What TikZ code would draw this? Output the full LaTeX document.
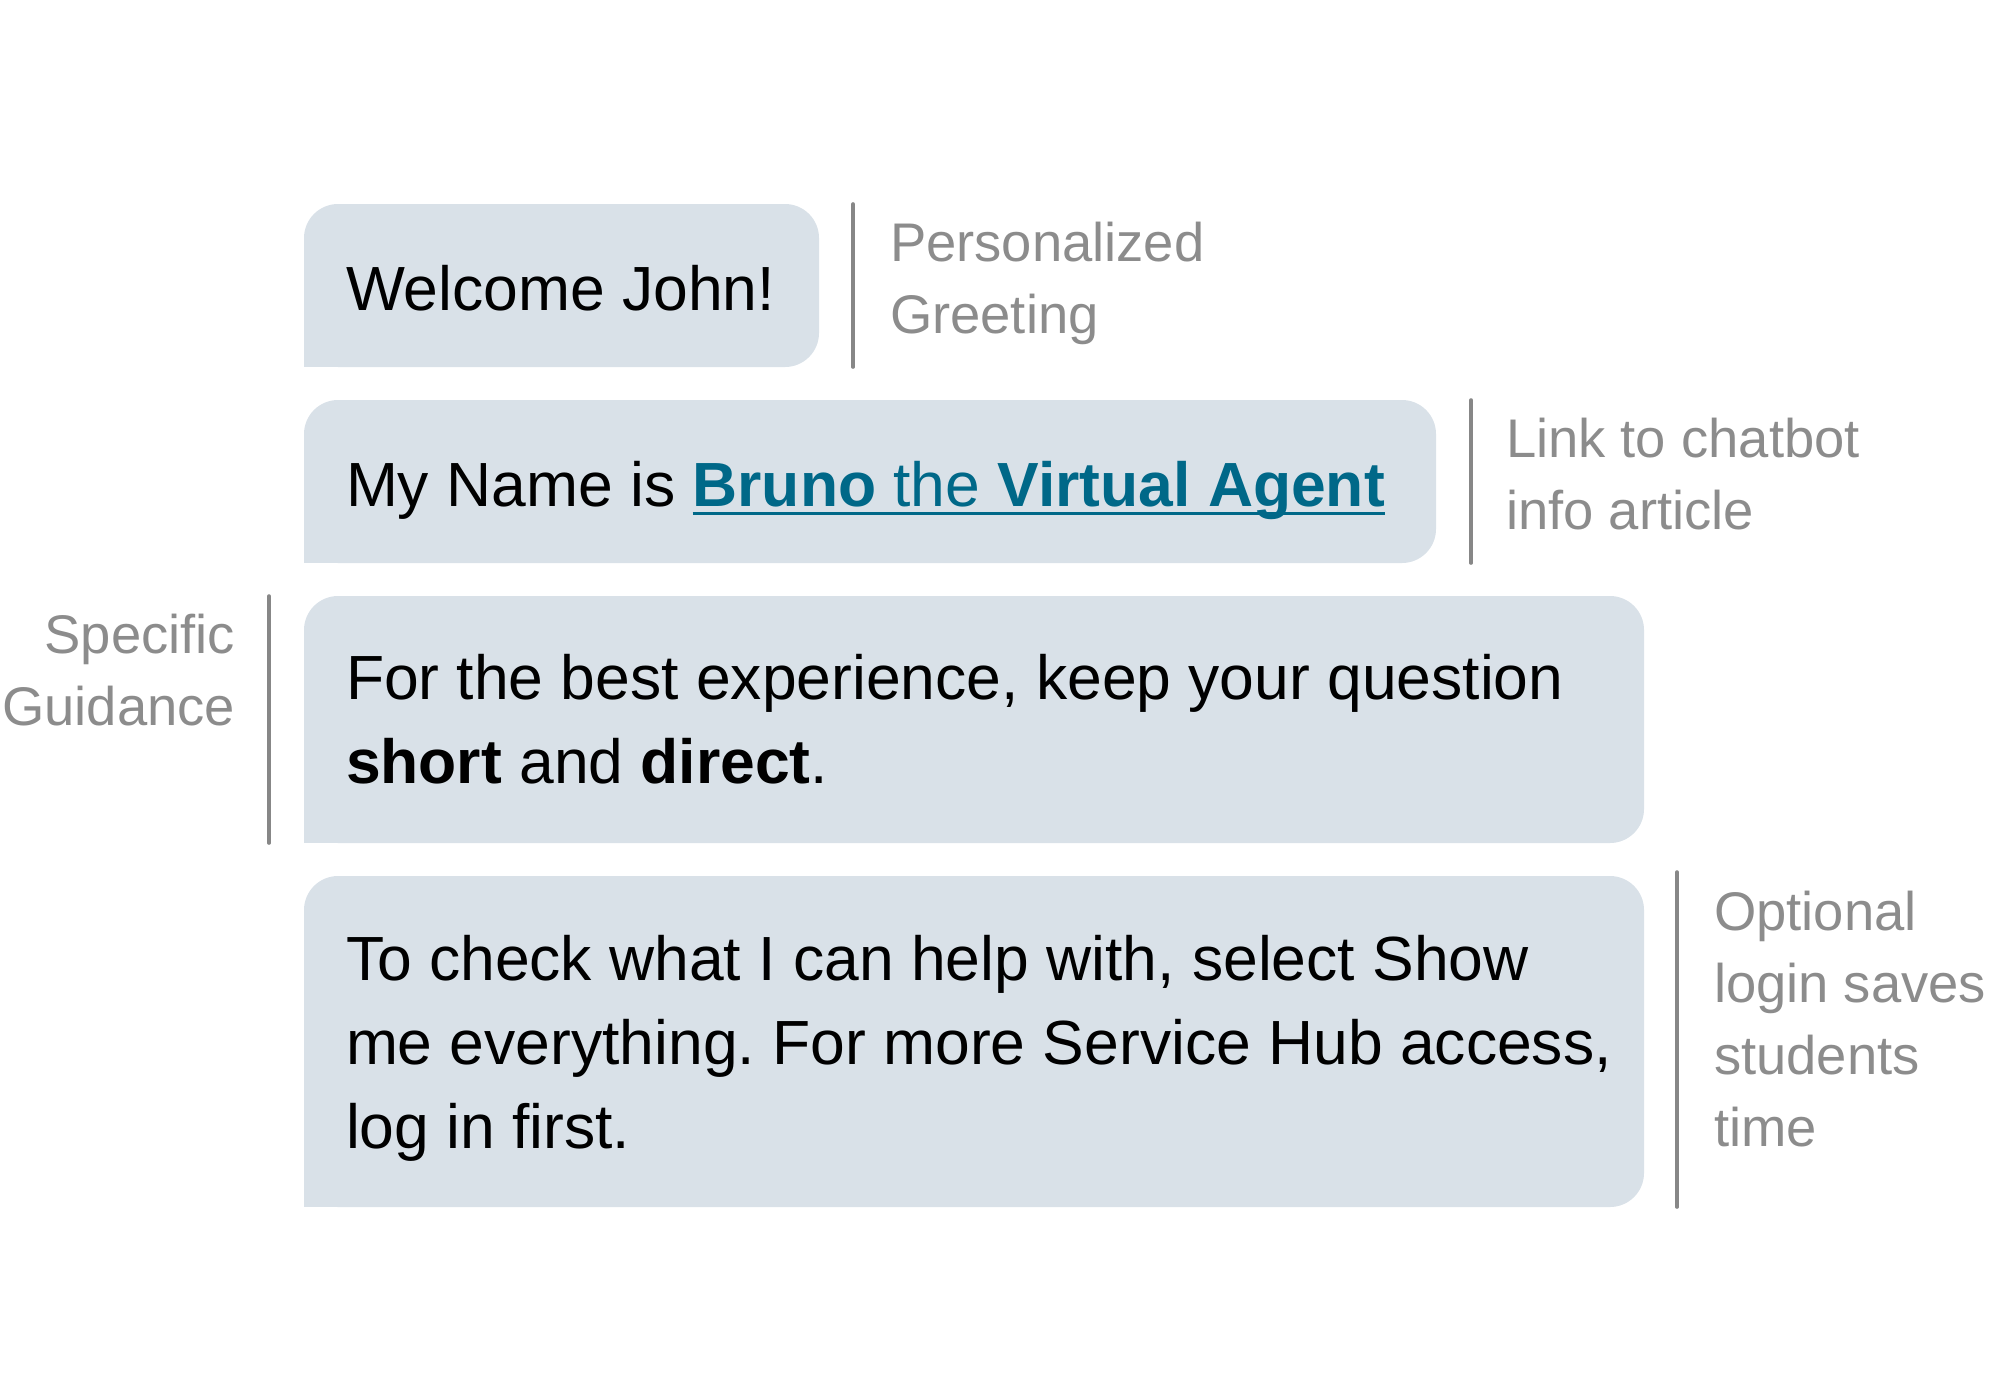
\documentclass[tikz,border=0pt]{standalone}
\usepackage{fontspec}
\setmainfont{Liberation Sans}
\frenchspacing
\definecolor{bubblecol}{RGB}{217,225,232}
\definecolor{linkcol}{RGB}{0,104,136}
\definecolor{notecol}{RGB}{140,140,140}
\definecolor{rulecol}{RGB}{135,135,135}
\newcommand{\leftlines}[1]{\vtop{\halign{##\hfil\cr #1\crcr}}}
\newcommand{\rightlines}[1]{\vtop{\halign{\hfil##\cr #1\crcr}}}
\begin{document}
\begin{tikzpicture}[x=0.5pt,y=-0.5pt,
  bubble/.style={fill=bubblecol, rounded corners=17pt, inner sep=0pt, outer sep=0pt, anchor=north west},
  msg/.style={anchor=base west, inner sep=0pt, outer sep=0pt, font=\fontsize{31.2}{42}\selectfont, text=black},
  note/.style={anchor=base west, inner sep=0pt, outer sep=0pt, font=\fontsize{27.2}{36}\selectfont, text=notecol},
  sideline/.style={draw=rulecol, line width=1.8pt, line cap=round}]
\useasboundingbox (0,0) rectangle (2000,1388);
% bubbles
\node[bubble, minimum width=257.5pt, minimum height=81.5pt] (b1) at (304,204) {};
\node[bubble, minimum width=566pt, minimum height=81.5pt] (b2) at (304,400) {};
\node[bubble, minimum width=670pt, minimum height=123.5pt] (b3) at (304,596) {};
\node[bubble, minimum width=670pt, minimum height=165.5pt] (b4) at (304,876) {};
\foreach \b in {b1,b2,b3,b4}
  \fill[bubblecol] (\b.south west) rectangle ([xshift=20pt,yshift=20pt]\b.south west);
% message texts
\node[msg] (t1) at (346,310) {Welcome John!};
\node[msg] (t2) at (346,506) {My Name is};
\node[msg, text=linkcol] (t2l) at ([xshift=8.6pt]t2.base east) {\textbf{Bruno} the \textbf{Virtual Agent}};
\draw[linkcol, line width=1.4pt] ([yshift=-3.6pt]t2l.base west) -- ([yshift=-3.6pt]t2l.base east);
\node[msg] (t3) at (346,699) {\leftlines{For the best experience, keep your question\cr \textbf{short} and \textbf{direct}.}};
\node[msg] (t4) at (346,980) {\leftlines{To check what I can help with, select Show\cr me everything. For more Service Hub access,\cr log in first.}};
% side lines
\draw[sideline] ([xshift=17pt]b1.north east) -- ([xshift=17pt]b1.south east);
\draw[sideline] ([xshift=17.5pt]b2.north east) -- ([xshift=17.5pt]b2.south east);
\draw[sideline] ([xshift=-17.5pt]b3.north west) -- ([xshift=-17.5pt]b3.south west);
\draw[sideline] ([xshift=16.5pt,yshift=2pt]b4.north east) -- ([xshift=16.5pt]b4.south east);
% notes
\node[note] (n1) at (890,261) {\leftlines{Personalized\cr Greeting}};
\node[note] (n2) at (1506,457) {\leftlines{Link to chatbot\cr info article}};
\node[note, anchor=base east] (n3) at (235,653) {\rightlines{Specific\cr Guidance}};
\node[note] (n4) at (1714,930) {\leftlines{Optional\cr login saves\cr students\cr time}};
\end{tikzpicture}
\end{document}
